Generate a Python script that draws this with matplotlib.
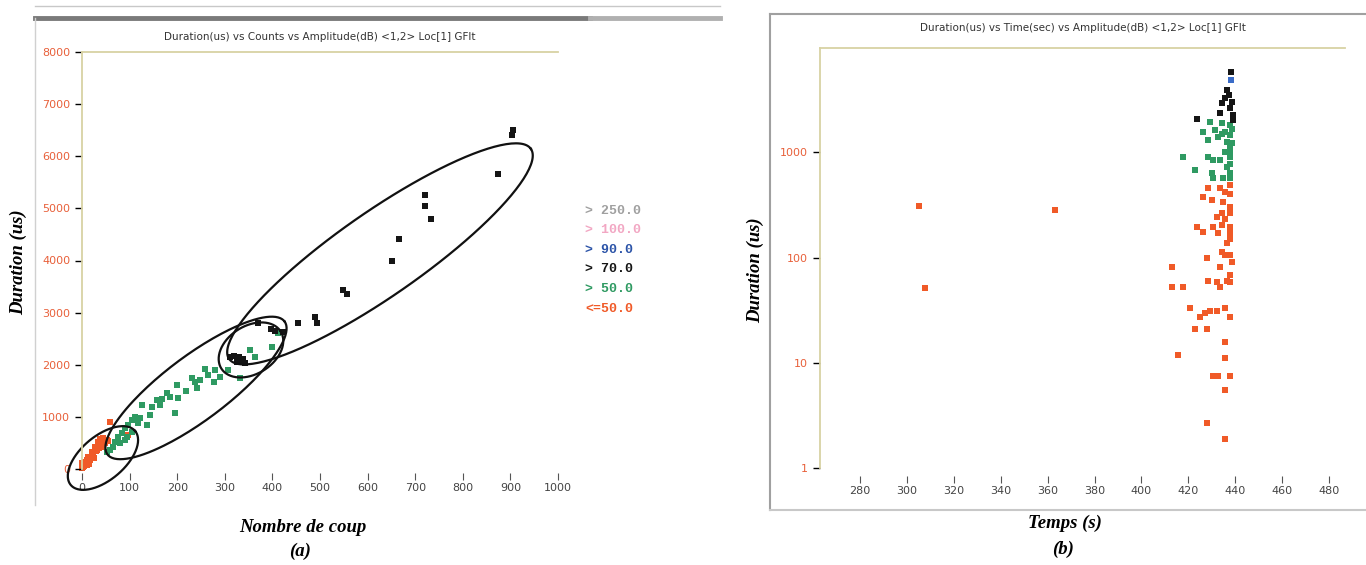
import matplotlib
matplotlib.use("Agg")
import matplotlib.pyplot as plt
import numpy as np
from matplotlib.lines import Line2D

# ---- Panel (a) : durée vs nombre de coups ----
counts_red = [0, 2, 6, 11, 13, 17, 21, 23, 27, 32, 42, 48, 34, 38, 44, 53, 59, 97,
              5, 10, 15, 20, 25, 30, 35, 40, 45, 55, 0]
dur_red = [115, 40, 135, 75, 230, 170, 325, 270, 420, 365, 420, 500, 520, 575, 595, 555, 900, 650,
           60, 180, 100, 280, 220, 350, 400, 450, 480, 540, 20]

counts_green = [412, 399, 353, 363, 332, 307, 279, 258, 277, 248, 237, 242, 231, 290,
                200, 179, 185, 168, 158, 202, 164, 147, 195, 126, 143, 122, 111, 105,
                137, 118, 97, 90, 105, 84, 76, 90, 69, 65, 59, 53, 95, 80, 218, 265]
dur_green = [2610, 2340, 2280, 2150, 1750, 1900, 1900, 1920, 1670, 1710, 1670, 1555, 1750, 1770,
             1610, 1460, 1380, 1340, 1320, 1360, 1230, 1190, 1070, 1230, 1040, 980, 1000, 940,
             845, 880, 845, 790, 710, 690, 615, 555, 520, 420, 365, 325, 615, 500, 1500, 1800]

counts_black = [903, 905, 874, 720, 720, 733, 666, 651, 548, 557, 490, 494, 454, 370,
                397, 405, 422, 311, 319, 330, 338, 334, 343, 326]
dur_black = [6400, 6500, 5660, 5260, 5050, 4800, 4410, 3990, 3440, 3360, 2920, 2800, 2800, 2800,
             2690, 2650, 2630, 2150, 2170, 2150, 2110, 2050, 2030, 2050]

# ellipses tracees a la main : centre, demi-axe 1, demi-axe 2 (unites des donnees)
ellipses = [
    (44, 211, 67.6, 518, 29.7, -324),
    (239.5, 1555, 186, 1276, 40.3, -491),
    (355, 2284, 62.4, 355, 26.7, -391),
    (626, 4127, 317, 2015, 50.4, -662),
]

legend_labels = ["> 250.0", "> 100.0", "> 90.0", "> 70.0", "> 50.0", "<=50.0"]
legend_colors = ["#a0a0a0", "#f2a7c3", "#2c54a8", "#151515", "#2f9a62", "#f05a28"]

# ---- Panel (b) : durée vs temps ----
t_red = [305.2, 307.7, 363, 428.5, 433.6, 437.9, 435.7, 426.3, 430.2, 434.9, 437.9, 434.4, 437.9,
         432.3, 423.8, 426.3, 430.6, 434.4, 437.9, 432.7, 437.9, 436.6, 434.4, 437.9, 428.0, 435.7,
         413.1, 433.6, 437.9, 428.5, 432.3, 436.6, 437.9, 433.6, 413.1, 417.8, 420.8, 427.2, 429.3,
         432.3, 435.7, 425.1, 437.9, 422.9, 428.0, 415.7, 435.7, 435.7, 430.6, 432.7, 437.9, 435.7,
         428.0, 435.7, 437.9, 435.7, 437.9, 438.7]
d_red = [307, 51, 280, 455, 455, 486, 417, 374, 350, 335, 300, 264, 264,
         242, 194, 174, 194, 203, 194, 170, 170, 137, 112, 105, 98, 105,
         81, 81, 68, 60, 58, 60, 58, 52, 52, 52, 33, 30, 31,
         31, 33, 27, 27, 21, 21, 11.8, 15.7, 11.1, 7.5, 7.5, 7.5, 5.5,
         2.7, 1.9, 400, 230, 150, 90]

t_green = [429.3, 434.4, 437.9, 426.3, 431.5, 435.7, 437.9, 428.5, 432.7, 436.6, 438.7, 417.8,
           428.5, 433.6, 437.9, 430.6, 436.6, 422.9, 430.2, 437.9, 434.9, 430.6, 437.9,
           437.9, 437.9, 437.9, 435.7, 434.4, 438.7]
d_green = [1930, 1885, 1805, 1550, 1620, 1550, 1450, 1300, 1390, 1245, 1220, 900,
           900, 840, 900, 840, 720, 675, 630, 630, 570, 570, 570,
           1100, 1000, 780, 1000, 1500, 1650]

t_black = [438.3, 436.6, 437.5, 435.7, 438.7, 434.4, 437.9, 433.6, 439.1, 423.8, 439.1]
d_black = [5750, 3880, 3480, 3260, 2985, 2920, 2620, 2350, 2245, 2060, 2010]

t_blue = [438.3]
d_blue = [4830]

RED = "#f05a28"
GREEN = "#2f9a62"
BLACK = "#151515"
BLUE = "#3a6cc8"
KHAKI = "#d8d2a4"

fig = plt.figure(figsize=(13.66, 5.65), dpi=100)

tick_font = ["Liberation Sans Narrow", "DejaVu Sans"]
lab_font = ["Liberation Serif", "DejaVu Serif"]


def style_axes(ax, out):
    for s in ["right", "bottom"]:
        ax.spines[s].set_visible(False)
    for s in ["left", "top"]:
        ax.spines[s].set_color(KHAKI)
        ax.spines[s].set_linewidth(1.3)
    ax.spines["bottom"].set_position(("outward", out))
    ax.tick_params(axis="y", which="major", length=5, width=1, color="black",
                   labelcolor="#e8603a", labelsize=8)
    ax.tick_params(axis="y", which="minor", length=0)
    ax.tick_params(axis="x", length=5, width=0.8, color="#555555",
                   labelcolor="#444444", labelsize=8, pad=2)
    for lab in ax.get_xticklabels() + ax.get_yticklabels():
        lab.set_family(tick_font)


# ---------- (a) ----------
ax1 = fig.add_axes([82 / 1366, 96 / 565, 476 / 1366, 417 / 565])
ax1.set_xlim(0, 1000)
ax1.set_ylim(0, 8000)
sq = dict(marker="s", s=18, linewidths=0, clip_on=False)
ax1.scatter(counts_red, dur_red, color=RED, **sq)
ax1.scatter(counts_green, dur_green, color=GREEN, **sq)
ax1.scatter(counts_black, dur_black, color=BLACK, **sq)
t = np.linspace(0, 2 * np.pi, 200)
for cx, cy, ax_, ay_, bx_, by_ in ellipses:
    ax1.plot(cx + ax_ * np.cos(t) + bx_ * np.sin(t),
             cy + ay_ * np.cos(t) + by_ * np.sin(t),
             color="#111111", lw=1.6, clip_on=False)
ax1.set_xticks(np.arange(0, 1001, 100))
ax1.set_yticks(np.arange(0, 8001, 1000))
style_axes(ax1, 3)
ax1.set_title("Duration(us) vs Counts vs Amplitude(dB) <1,2> Loc[1] GFlt",
              fontsize=7.5, color="#333333", family=tick_font, pad=9)

for i, (lab, col) in enumerate(zip(legend_labels, legend_colors)):
    fig.text(585 / 1366, 1 - (211 + 19.5 * i) / 565, lab, color=col, fontsize=9.5,
             family=["Liberation Mono", "DejaVu Sans Mono"], fontweight="bold",
             va="center", ha="left")

fig.text(18 / 1366, 1 - 262 / 565, "Duration (us)", rotation=90, fontsize=13.5,
         family=lab_font, fontweight="bold", style="italic", ha="center", va="center")
fig.text(303 / 1366, 1 - 528 / 565, "Nombre de coup", fontsize=13.5,
         family=lab_font, fontweight="bold", style="italic", ha="center", va="center")
fig.text(300 / 1366, 1 - 551 / 565, "(a)", fontsize=13.5,
         family=lab_font, fontweight="bold", style="italic", ha="center", va="center")

# ---------- (b) ----------
ax2 = fig.add_axes([820 / 1366, 97 / 565, 525 / 1366, 420 / 565])
ax2.set_yscale("log")
ax2.set_xlim(262.9, 486.8)
ax2.set_ylim(1, 9800)
sq2 = dict(marker="s", s=24, linewidths=0)
ax2.scatter(t_red, d_red, color=RED, **sq2)
ax2.scatter(t_green, d_green, color=GREEN, **sq2)
ax2.scatter(t_black, d_black, color=BLACK, **sq2)
ax2.scatter(t_blue, d_blue, color=BLUE, **sq2)
ax2.set_xticks(np.arange(280, 481, 20))
ax2.set_yticks([1, 10, 100, 1000])
ax2.set_yticklabels(["1", "10", "100", "1000"])
style_axes(ax2, 6)
ax2.set_title("Duration(us) vs Time(sec) vs Amplitude(dB) <1,2> Loc[1] GFlt",
              fontsize=7.5, color="#333333", family=tick_font, pad=12)

fig.text(755 / 1366, 1 - 270 / 565, "Duration (us)", rotation=90, fontsize=13.5,
         family=lab_font, fontweight="bold", style="italic", ha="center", va="center")
fig.text(1065 / 1366, 1 - 523 / 565, "Temps (s)", fontsize=13.5,
         family=lab_font, fontweight="bold", style="italic", ha="center", va="center")
fig.text(1063 / 1366, 1 - 549 / 565, "(b)", fontsize=13.5,
         family=lab_font, fontweight="bold", style="italic", ha="center", va="center")

# cadres des fenetres (capture d'ecran)
W, H = 1366, 565


def fline(x0, y0, x1, y1, **kw):
    fig.add_artist(Line2D([x0 / W, x1 / W], [1 - y0 / H, 1 - y1 / H],
                          transform=fig.transFigure, **kw))


fline(35, 6, 720, 6, color="#c8c8c8", lw=1)
fline(35, 18, 590, 18, color="#7a7a7a", lw=3.5)
fline(590, 18, 720, 18, color="#b0b0b0", lw=3.5)
fline(35, 18, 35, 505, color="#d0d0d0", lw=1)
fline(770, 14, 1366, 14, color="#a0a0a0", lw=1.5)
fline(770, 14, 770, 510, color="#a0a0a0", lw=1.5)
fline(770, 510, 1366, 510, color="#c8c8c8", lw=1.5)

fig.savefig("out.png", dpi=100)
